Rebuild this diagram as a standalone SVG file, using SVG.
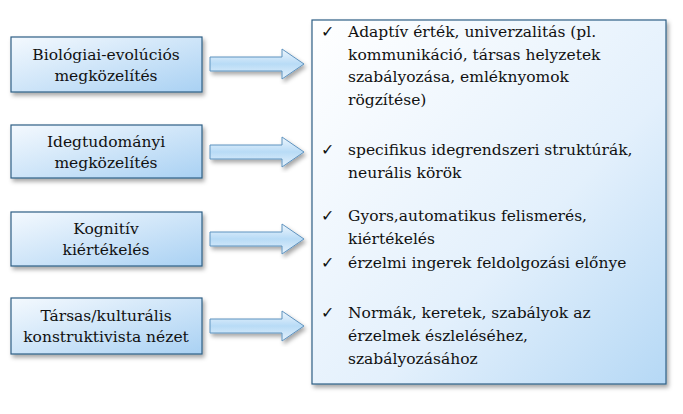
<svg xmlns="http://www.w3.org/2000/svg" width="683" height="414" viewBox="0 0 683 414">
<defs>
<linearGradient id="g" x1="0" y1="0" x2="1" y2="1"><stop offset="0" stop-color="#f4f9fe"/><stop offset="1" stop-color="#a9d1f3"/></linearGradient>
<linearGradient id="gb" x1="0" y1="0" x2="1" y2="1"><stop offset="0" stop-color="#ffffff"/><stop offset="0.6" stop-color="#e3f0fc"/><stop offset="1" stop-color="#b5d8f5"/></linearGradient>
<linearGradient id="ga" x1="0" y1="0" x2="0" y2="1"><stop offset="0" stop-color="#eef6fd"/><stop offset="0.5" stop-color="#b8dbf6"/><stop offset="1" stop-color="#e6f2fc"/></linearGradient>
<filter id="s" x="-10%" y="-10%" width="130%" height="130%"><feDropShadow dx="2" dy="3" stdDeviation="2" flood-color="#000" flood-opacity="0.35"/></filter>
</defs>
<style>
.n{fill:url(#g);stroke:#2f5f85;stroke-width:1.2;filter:url(#s)}
.a{fill:url(#ga);stroke:#5f93bf;stroke-width:1;filter:url(#s)}
text{font-family:'DejaVu Serif','Liberation Serif',serif;font-size:15.5px;fill:#111}
.c{text-anchor:middle}
</style>
<rect width="683" height="414" fill="#fff"/>
<g id="right"><rect x="312" y="20" width="354" height="364" class="n" style="fill:url(#gb)"/>
<text x="321" y="37">✓</text><text x="348" y="37">Adaptív érték, univerzalitás  (pl.</text>
<text x="348" y="60">kommunikáció,  társas helyzetek</text>
<text x="348" y="82">szabályozása, emléknyomok</text>
<text x="348" y="105">rögzítése)</text>
<text x="321" y="155">✓</text><text x="348" y="155">specifikus idegrendszeri struktúrák,</text>
<text x="348" y="178">neurális körök</text>
<text x="321" y="221">✓</text><text x="348" y="221">Gyors,automatikus felismerés,</text>
<text x="348" y="244">kiértékelés</text>
<text x="321" y="268">✓</text><text x="348" y="268">érzelmi ingerek feldolgozási előnye</text>
<text x="321" y="318">✓</text><text x="348" y="318">Normák, keretek, szabályok az</text>
<text x="348" y="341">érzelmek észleléséhez,</text>
<text x="348" y="364">szabályozásához</text>
</g>
<g id="n1"><rect x="11" y="37" width="191" height="55" class="n"/><text x="106" y="60" class="c">Biológiai-evolúciós</text><text x="106" y="81" class="c">megközelítés</text></g>
<g id="n2"><rect x="11" y="125" width="191" height="53" class="n"/><text x="106" y="147" class="c">Idegtudományi</text><text x="106" y="168" class="c">megközelítés</text></g>
<g id="n3"><rect x="11" y="212" width="191" height="54" class="n"/><text x="106" y="234" class="c">Kognitív</text><text x="106" y="255" class="c">kiértékelés</text></g>
<g id="n4"><rect x="11" y="298" width="191" height="56" class="n"/><text x="106" y="321" class="c">Társas/kulturális</text><text x="106" y="342" class="c">konstruktivista nézet</text></g>
<g id="connectors">
<path class="a" d="M210,57 h72 v-8 l22,15 l-22,15 v-8 h-72 z"/>
<path class="a" d="M210,145 h72 v-8 l22,15 l-22,15 v-8 h-72 z"/>
<path class="a" d="M210,232 h72 v-8 l22,15 l-22,15 v-8 h-72 z"/>
<path class="a" d="M210,319 h72 v-8 l22,15 l-22,15 v-8 h-72 z"/>
</g>
</svg>
